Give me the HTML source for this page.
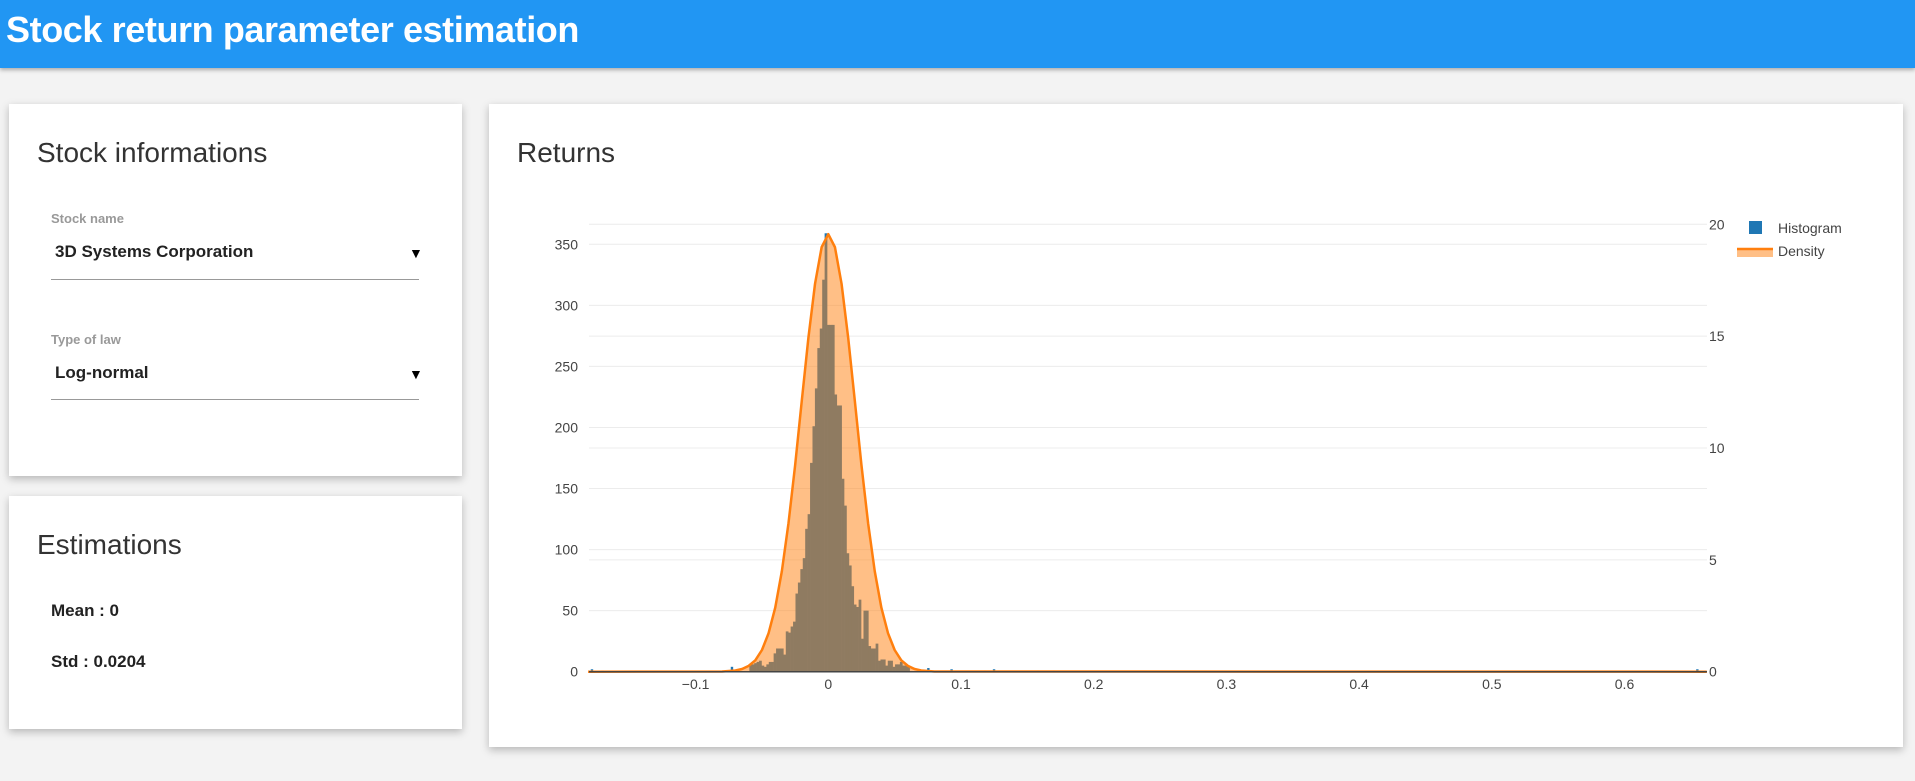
<!DOCTYPE html>
<html><head><meta charset="utf-8">
<style>
body{margin:0;width:1915px;height:781px;background:#f3f3f3;font-family:"Liberation Sans",sans-serif;position:relative;overflow:hidden}
.hdr{position:absolute;left:0;top:0;width:1915px;height:68px;background:#2196f3;box-shadow:0 2px 4px rgba(0,0,0,.3)}
.hdr h1{margin:0;position:absolute;left:6px;top:9px;font-size:36px;font-weight:bold;color:#fff;letter-spacing:-0.4px}
.card{position:absolute;background:#fff;box-shadow:0 3px 8px rgba(0,0,0,.25)}
.t{position:absolute;font-size:28px;color:#333;white-space:nowrap}
.lbl{position:absolute;font-size:13px;color:#999;font-weight:bold}
.sel{position:absolute;font-size:17px;font-weight:bold;color:#222}
.arr{position:absolute;font-size:14px;color:#000}
.ul{position:absolute;height:1px;background:#999}
.est{position:absolute;font-size:17px;font-weight:bold;color:#222}
svg text{font-family:"Liberation Sans",sans-serif}
</style></head><body>
<div class="hdr"><h1>Stock return parameter estimation</h1></div>

<div class="card" style="left:9px;top:104px;width:453px;height:372px">
 <div class="t" style="left:28px;top:33px">Stock informations</div>
 <div class="lbl" style="left:42px;top:107px">Stock name</div>
 <div>
  <div class="sel" style="left:46px;top:138px">3D Systems Corporation</div>
  <div class="arr" style="left:400px;top:141px">▼</div>
  <div class="ul" style="left:42px;top:175px;width:368px"></div>
 </div>
 <div class="lbl" style="left:42px;top:228px">Type of law</div>
 <div>
  <div class="sel" style="left:46px;top:259px">Log-normal</div>
  <div class="arr" style="left:400px;top:262px">▼</div>
  <div class="ul" style="left:42px;top:295px;width:368px"></div>
 </div>
</div>

<div class="card" style="left:9px;top:496px;width:453px;height:233px">
 <div class="t" style="left:28px;top:33px">Estimations</div>
 <div class="est" style="left:42px;top:105px">Mean : 0</div>
 <div class="est" style="left:42px;top:156px">Std : 0.0204</div>
</div>

<div class="card" style="left:489px;top:104px;width:1414px;height:643px">
 <div class="t" style="left:28px;top:33px">Returns</div>
</div>

<svg id="chart" width="1915" height="781" style="position:absolute;left:0;top:0"></svg>

<script>
const leftTicks=[0,50,100,150,200,250,300,350];
const rightTicks=[0,5,10,15,20];
const xTicks=[-0.1,0,0.1,0.2,0.3,0.4,0.5,0.6];
const xTickLabels=["\u22120.1","0","0.1","0.2","0.3","0.4","0.5","0.6"];
const binStart=-0.0595;
const binWidth=0.00183;
const counts=[6,6,7,8,9,5,4,6,8,8,15,19,19,19,14,33,32,37,41,64,73,84,93,117,129,171,201,232,265,281,321,359,284,284,284,227,218,218,158,136,97,87,70,55,53,59,27,50,50,21,19,19,23,9,10,10,5,9,9,4,6,6,8,5,5,4];
const outlierX=[-0.179,-0.171,-0.0735,0.0745,0.092,0.117,0.124,0.157,0.169,0.654];
const outlierCounts=[2,1,4,3,2,1,2,1,1,2];
const densX=[-0.181,-0.08,-0.07,-0.065,-0.06,-0.055,-0.05,-0.045,-0.04,-0.035,-0.03,-0.025,-0.02,-0.015,-0.01,-0.005,0,0.005,0.01,0.015,0.02,0.025,0.03,0.035,0.04,0.045,0.05,0.055,0.06,0.065,0.07,0.08,0.662];
const densY=[0,0.009,0.054,0.12,0.26,0.51,0.97,1.72,2.86,4.49,6.64,9.23,12.10,14.92,17.34,18.98,19.56,18.98,17.34,14.92,12.10,9.23,6.64,4.49,2.86,1.72,0.97,0.51,0.26,0.12,0.054,0.009,0];

const NS="http://www.w3.org/2000/svg";
const svg=document.getElementById('chart');
const X0=589,X1=1707,Y0=671.7;
const xs=v=>828.3+v*1327;
const yl=v=>Y0-v*(61.06/50);
const yr=v=>Y0-v*(447.4/20);
function mk(tag,attrs,parent){const e=document.createElementNS(NS,tag);for(const k in attrs)e.setAttribute(k,attrs[k]);(parent||svg).appendChild(e);return e;}

leftTicks.forEach(t=>{
 if(t>0){const g=mk('line',{x1:X0,x2:X1,y1:yl(t),y2:yl(t),stroke:'#ececec','stroke-width':1});
 
 }
 const tx=mk('text',{x:578,y:yl(t)+5,'text-anchor':'end','font-size':14,fill:'#444'});tx.textContent=t;
 
 
});
rightTicks.forEach(t=>{
 if(t>0){const g=mk('line',{x1:X0,x2:X1,y1:yr(t),y2:yr(t),stroke:'#ececec','stroke-width':1});
 
 }
 const tx=mk('text',{x:1709,y:yr(t)+5,'text-anchor':'start','font-size':14,fill:'#444'});tx.textContent=t;
 
 
});
xTicks.forEach((t,i)=>{
 const tx=mk('text',{x:xs(t),y:689,'text-anchor':'middle','font-size':14,fill:'#444'});tx.textContent=xTickLabels[i];
 
 
});
counts.forEach((c,i)=>{
 const x=xs(binStart+i*binWidth),w=xs(binStart+(i+1)*binWidth)-x;
 const r=mk('rect',{x:x,y:yl(c),width:w+0.3,height:Y0-yl(c),fill:'#1f77b4'});
 
 
});
outlierX.forEach((v,i)=>{
 const x=xs(v),c=outlierCounts[i];
 const r=mk('rect',{x:x,y:yl(c),width:2.4,height:Y0-yl(c),fill:'#1f77b4'});
 
 
});
let d='';densX.forEach((v,i)=>{d+=(i?'L':'M')+xs(v).toFixed(2)+','+yr(densY[i]).toFixed(2);});
const fill=mk('path',{d:d+'Z',fill:'rgba(255,127,14,0.5)',stroke:'none'});


const ln=mk('path',{d:d,fill:'none',stroke:'#ff7f0e','stroke-width':2.5,'stroke-linejoin':'round'});


const ax=mk('line',{x1:X0,x2:X1,y1:Y0,y2:Y0,stroke:'#444','stroke-width':1.5});



const lg=mk('g',{});


const l1=mk('rect',{x:1749,y:221,width:13,height:13,fill:'#1f77b4'},lg);


const t1=mk('text',{x:1778,y:233,'font-size':14,fill:'#444'},lg);t1.textContent='Histogram';


const l2=mk('rect',{x:1737,y:249,width:36,height:8,fill:'rgba(255,127,14,0.5)'},lg);


const l3=mk('line',{x1:1737,x2:1773,y1:249,y2:249,stroke:'#ff7f0e','stroke-width':2.5},lg);


const t2=mk('text',{x:1778,y:256,'font-size':14,fill:'#444'},lg);t2.textContent='Density';


</script>
</body></html>
